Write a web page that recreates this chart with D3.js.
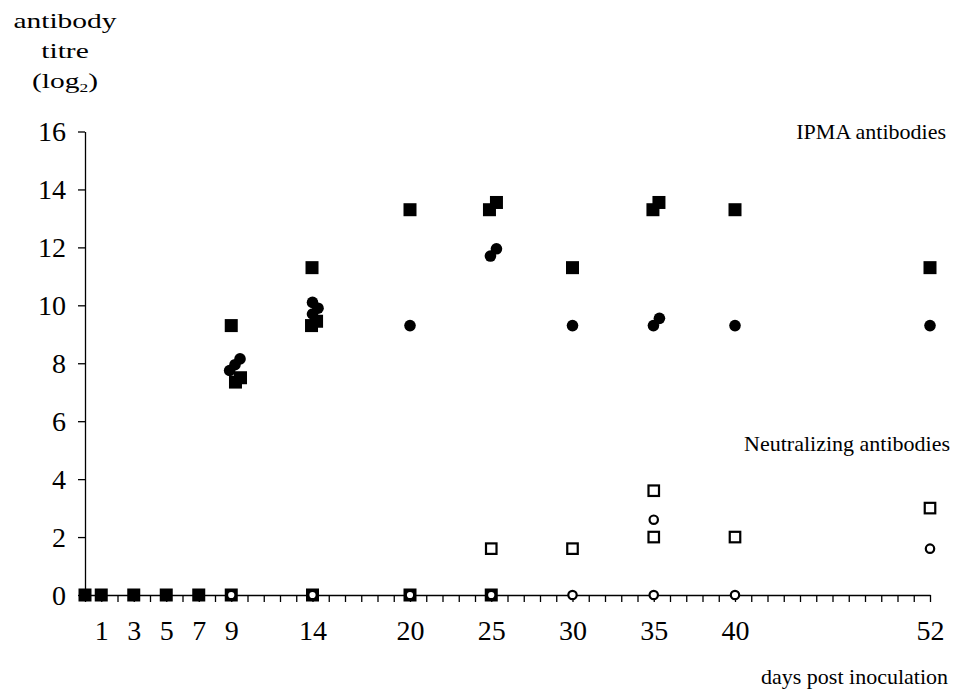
<!DOCTYPE html>
<html>
<head>
<meta charset="utf-8">
<script src="https://cdn.jsdelivr.net/npm/d3@7"></script>
<style>
  body { margin: 0; background: #fff; }
  svg text { font-family: "Liberation Serif", "Times New Roman", serif; fill: #000; }
</style>
</head>
<body>
<svg id="chart" width="955" height="689"></svg>
<script>
// ---- data ----
const xLabelDays = [1, 3, 5, 7, 9, 14, 20, 25, 30, 35, 40, 52];
const yTicks = [0, 2, 4, 6, 8, 10, 12, 14, 16];

// titre 0 (all negative) filled squares
const zeroSquareDays = [0, 1, 3, 5, 7, 9, 14, 20, 25];
const zeroSquareVals = [0, 0, 0, 0, 0, 0, 0, 0, 0];

// IPMA antibodies (filled squares)
const ipmaSquareDays = [9, 9.26, 9.57, 13.97, 13.94, 14.25, 20, 24.89, 25.32, 30, 34.95, 35.32, 40, 52];
const ipmaSquareVals = [9.3, 7.35, 7.5, 11.3, 9.3, 9.45, 13.3, 13.3, 13.55, 11.3, 13.3, 13.55, 13.3, 11.3];

// IPMA antibodies (filled circles)
const ipmaCircleDays = [8.9, 9.23, 9.54, 14.0, 14.34, 14.0, 20, 24.95, 25.32, 30, 34.98, 35.35, 40, 52];
const ipmaCircleVals = [7.75, 7.95, 8.15, 10.1, 9.9, 9.7, 9.3, 11.7, 11.95, 9.3, 9.3, 9.55, 9.3, 9.3];

// Neutralizing antibodies (open squares)
const neutSquareDays = [25, 30, 35, 35, 40, 52];
const neutSquareVals = [1.6, 1.6, 3.6, 2.0, 2.0, 3.0];

// Neutralizing antibodies (open circles)
const neutCircleDays = [9, 14, 20, 25, 30, 35, 35, 40, 52];
const neutCircleVals = [0, 0, 0, 0, 0, 0, 2.6, 0, 1.6];

// ---- chart ----
const svg = d3.select("#chart");
const x = d3.scaleLinear().domain([0, 52]).range([85, 930]);
const y = d3.scaleLinear().domain([0, 16]).range([595, 131.5]);

const xAxis = d3.axisBottom(x)
  .tickValues(d3.range(0, 53))
  .tickSize(7).tickSizeOuter(0).tickPadding(18)
  .tickFormat(d => xLabelDays.includes(d) ? d : "");
const gx = svg.append("g").attr("transform", `translate(0,${y(0)})`).call(xAxis);

const yAxis = d3.axisLeft(y)
  .tickValues(yTicks)
  .tickSize(7).tickSizeOuter(0).tickPadding(12);
const gy = svg.append("g").attr("transform", `translate(${x(0)},0)`).call(yAxis);

[gx, gy].forEach(g => {
  g.selectAll("path, line").attr("stroke", "#000").attr("stroke-width", 1.3);
  g.selectAll("text").attr("font-size", 28).attr("font-family", "Liberation Serif, Times New Roman, serif").attr("fill", "#000");
});
gy.selectAll("text").attr("dy", "0.33em");

const zip = (a, b) => a.map((d, i) => [d, b[i]]);

function squares(data, size, filled) {
  svg.append("g").selectAll("rect").data(data).join("rect")
    .attr("x", d => x(d[0]) - size / 2)
    .attr("y", d => y(d[1]) - size / 2)
    .attr("width", size).attr("height", size)
    .attr("fill", filled ? "#000" : "#fff")
    .attr("stroke", "#000")
    .attr("stroke-width", filled ? 0 : 2.2);
}
function circles(data, r, filled) {
  svg.append("g").selectAll("circle").data(data).join("circle")
    .attr("cx", d => x(d[0]))
    .attr("cy", d => y(d[1]))
    .attr("r", r)
    .attr("fill", filled ? "#000" : "#fff")
    .attr("stroke", "#000")
    .attr("stroke-width", filled ? 0 : 2.2);
}

squares(zip(zeroSquareDays, zeroSquareVals), 13, true);
squares(zip(ipmaSquareDays, ipmaSquareVals), 13, true);
circles(zip(ipmaCircleDays, ipmaCircleVals), 5.8, true);
squares(zip(neutSquareDays, neutSquareVals), 10.5, false);
circles(zip(neutCircleDays, neutCircleVals), 4.2, false);

// ---- text ----
const t = (txt, xx, yy, anchor) => svg.append("text")
  .attr("x", xx).attr("y", yy).attr("text-anchor", anchor).attr("font-size", 22).text(txt);

// y-axis title (wide lettering)
const wide = (yy) => svg.append("text")
  .attr("transform", `translate(65,${yy}) scale(1.34,1)`)
  .attr("text-anchor", "middle").attr("font-size", 22);
wide(28).text("antibody");
wide(58).text("titre");
const lg = wide(88);
lg.append("tspan").text("(log");
lg.append("tspan").attr("font-size", 13).attr("dy", 4).text("2");
lg.append("tspan").attr("dy", -4).text(")");

t("IPMA antibodies", 946, 139, "end");
t("Neutralizing antibodies", 950, 451, "end");
t("days post inoculation", 948, 684, "end");
</script>
</body>
</html>
